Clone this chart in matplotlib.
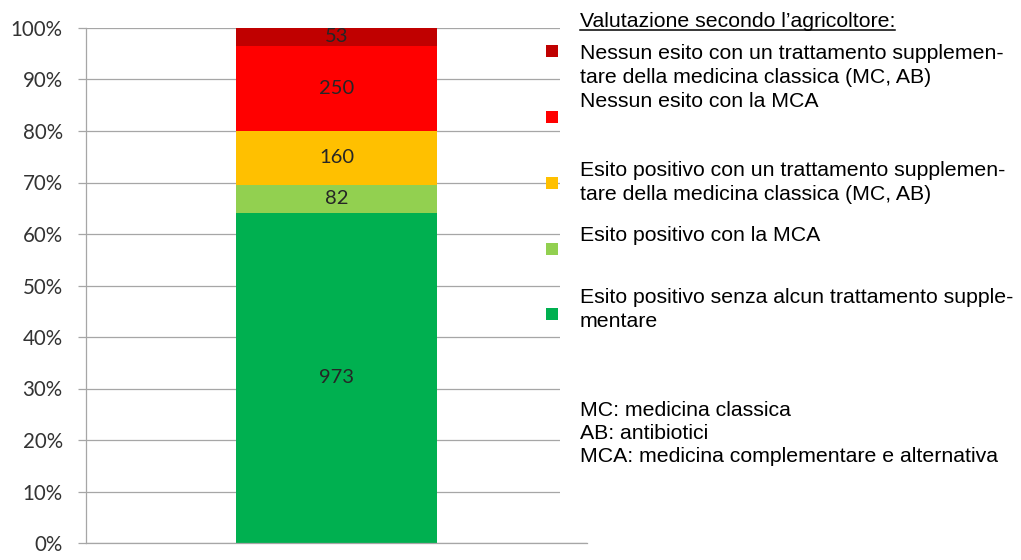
import matplotlib.pyplot as plt
from matplotlib.patches import Rectangle
from matplotlib.lines import Line2D
from matplotlib.ticker import PercentFormatter

# data, bottom to top of the stack
counts = [973, 82, 160, 250, 53]
colors = ['#00B050', '#92D050', '#FFC000', '#FF0000', '#C00000']
legend_labels = [
    'Esito positivo senza alcun trattamento supple-\nmentare',
    'Esito positivo con la MCA',
    'Esito positivo con un trattamento supplemen-\ntare della medicina classica (MC, AB)',
    'Nessun esito con la MCA',
    'Nessun esito con un trattamento supplemen-\ntare della medicina classica (MC, AB)',
]
legend_title = 'Valutazione secondo l\u2019agricoltore:'
notes = ['MC: medicina classica', 'AB: antibiotici',
         'MCA: medicina complementare e alternativa']
yticks = list(range(0, 101, 10))

W, H = 1021, 560
fig = plt.figure(figsize=(W / 100, H / 100), dpi=100)
ax = fig.add_axes([86 / W, (H - 543) / H, (587 - 86) / W, (543 - 28) / H])

total = sum(counts)
bottom = 0
for c, col in zip(counts, colors):
    pct = c / total * 100
    bars = ax.bar([0], [pct], bottom=bottom, width=0.4, color=col, zorder=2)
    ax.bar_label(bars, labels=[str(c)], label_type='center',
                 fontsize=14.5, family='Lato', color='#262626')
    bottom += pct

ax.set_xlim(-0.5, 0.5)
ax.set_ylim(0, 100)
ax.set_yticks(yticks)
ax.yaxis.set_major_formatter(PercentFormatter(decimals=0))
ax.set_xticks([])
ax.grid(axis='y', color='#A6A6A6', linewidth=0.9, zorder=0)
ax.tick_params(axis='y', length=5.8, width=0.9, color='#A6A6A6', pad=11,
               labelsize=14.8, labelcolor='#333333')
for lab in ax.get_yticklabels():
    lab.set_family('Lato')
for s in ['top', 'right']:
    ax.spines[s].set_visible(False)
for s in ['left', 'bottom']:
    ax.spines[s].set_color('#A6A6A6')
    ax.spines[s].set_linewidth(0.9)

# white legend area covering the gridlines on the right
fig.patches.append(Rectangle((560 / W, (H - 540) / H), 1, 1, transform=fig.transFigure,
                             facecolor='white', edgecolor='none', zorder=1))


def fy(y):
    return (H - y) / H


font = dict(family='Liberation Sans', fontsize=15.3, color='black', va='baseline')
tx = 580 / W

title = fig.text(tx, fy(27), legend_title, zorder=3, **font)
fig.canvas.draw()
bb = title.get_window_extent()
fig.add_artist(Line2D([bb.x0 / W, bb.x1 / W], [fy(30), fy(30)], color='black',
                      linewidth=1.1, transform=fig.transFigure, zorder=3))

# legend entries (bottom of stack first): first baseline, square center
entry_pos = [(303, 314), (241, 249), (176, 183), (107, 117), (59, 51)]
for label, col, (yb, ys) in zip(legend_labels, colors, entry_pos):
    for i, line in enumerate(label.split('\n')):
        fig.text(tx, fy(yb + i * 24), line, zorder=3, **font)
    fig.patches.append(Rectangle((546 / W, fy(ys + 6)), 12 / W, 12 / H,
                                 transform=fig.transFigure, facecolor=col,
                                 edgecolor='none', zorder=2))

for i, note in enumerate(notes):
    fig.text(tx, fy(416 + i * 23), note, zorder=3, **font)

fig.savefig('out.png', dpi=100)
